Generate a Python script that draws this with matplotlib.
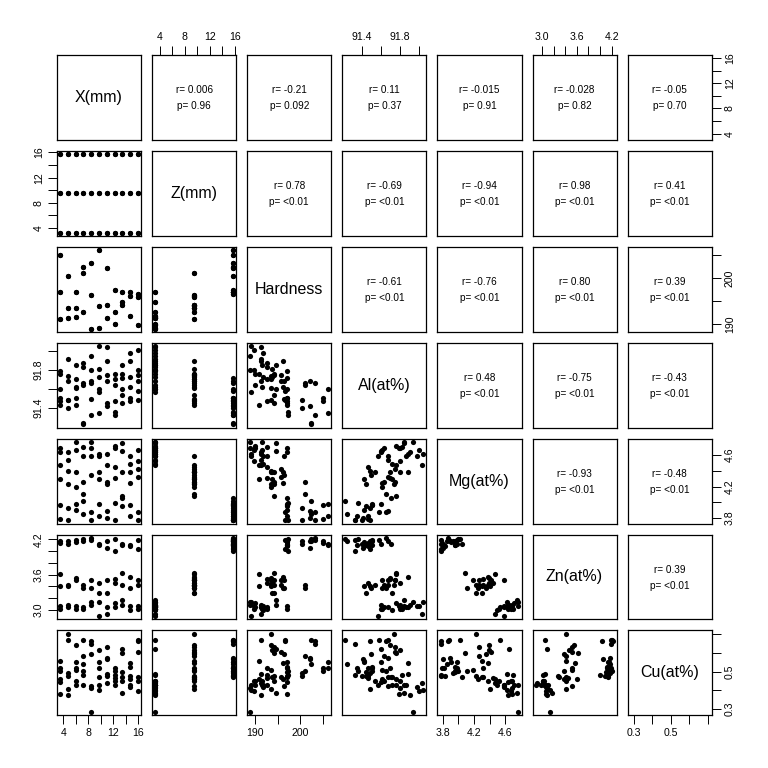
import matplotlib

matplotlib.use("Agg")
import matplotlib.pyplot as plt

plt.rcParams["font.family"] = ["Liberation Sans", "DejaVu Sans"]

# Design grid: 11 positions along X, 3 depths in Z, 2 repeat measurements each.
x_pos = [3.5, 4.75, 6.0, 7.25, 8.5, 9.75, 11.0, 12.25, 13.5, 14.75, 16.0]
z_pos = [3.25, 9.5, 15.75]

# Hardness: one value per (Z, X) position, shared by both repeats.
hard_z1 = [197.0, 191.4, 191.6, 192.7, 189.0, 189.1, 191.4, 190.0, 194.7, 191.8, 189.7]
hard_z2 = [191.0, 193.5, 193.5, 201.1, 196.4, 193.8, 194.2, 192.6, 194.2, 196.1, 195.8]
hard_z3 = [205.0, 200.4, 197.0, 202.3, 203.3, 206.1, 202.2, 197.3, 197.0, 197.0, 196.6]

# Composition: two repeats per X position, per Z depth.
al_z1 = [91.79, 91.60, 91.91, 91.68, 91.85, 91.62, 91.87, 91.83, 91.94, 91.80, 92.05,
         91.57, 92.04, 91.89, 91.76, 91.64, 91.85, 91.60, 91.98, 91.72, 92.01, 91.80]
al_z2 = [91.76, 91.43, 91.74, 91.49, 91.70, 91.61, 91.64, 91.66, 91.68, 91.50, 91.81,
         91.72, 91.75, 91.45, 91.70, 91.47, 91.76, 91.54, 91.89, 91.62, 91.75, 91.68]
al_z3 = [91.51, 91.47, 91.49, 91.40, 91.51, 91.43, 91.23, 91.25, 91.66, 91.33, 91.60,
         91.35, 91.68, 91.42, 91.36, 91.33, 91.71, 91.45, 91.51, 91.47, 91.58, 91.49]

mg_z1 = [4.69, 4.64, 4.64, 4.54, 4.77, 4.67, 4.59, 4.70, 4.77, 4.69, 4.62,
         4.59, 4.47, 4.62, 4.72, 4.69, 4.75, 4.65, 4.59, 4.49, 4.67, 4.52]
mg_z2 = [4.47, 4.30, 4.23, 4.40, 4.39, 4.19, 4.26, 4.11, 4.59, 4.35, 4.39,
         4.30, 4.26, 4.23, 4.31, 4.45, 4.08, 4.38, 4.38, 4.25, 4.42, 4.32]
mg_z3 = [3.96, 3.79, 3.93, 3.77, 3.98, 3.90, 4.02, 3.85, 3.87, 3.77, 3.98,
         3.82, 3.89, 3.80, 3.99, 3.77, 4.05, 3.95, 3.96, 3.83, 3.88, 3.77]

zn_z1 = [3.07, 3.02, 3.09, 3.05, 3.07, 3.01, 3.04, 3.01, 3.14, 3.09, 3.14,
         2.89, 2.92, 3.05, 3.11, 3.04, 3.17, 3.09, 3.07, 2.99, 3.07, 3.02]
zn_z2 = [3.61, 3.41, 3.42, 3.41, 3.55, 3.51, 3.42, 3.38, 3.51, 3.38, 3.46,
         3.29, 3.51, 3.28, 3.52, 3.45, 3.62, 3.42, 3.56, 3.37, 3.51, 3.42]
zn_z3 = [4.17, 4.14, 4.17, 4.13, 4.19, 4.15, 4.20, 4.17, 4.23, 4.19, 4.13,
         4.11, 4.17, 4.05, 4.20, 4.00, 4.13, 4.10, 4.11, 4.08, 4.19, 4.03]

cu_z1 = [0.380, 0.446, 0.374, 0.668, 0.432, 0.450, 0.430, 0.484, 0.284, 0.413, 0.400,
         0.432, 0.440, 0.490, 0.432, 0.450, 0.388, 0.620, 0.419, 0.432, 0.399, 0.451]
cu_z2 = [0.460, 0.557, 0.705, 0.407, 0.644, 0.509, 0.586, 0.503, 0.422, 0.595, 0.619,
         0.470, 0.634, 0.476, 0.519, 0.465, 0.601, 0.450, 0.547, 0.460, 0.605, 0.470]
cu_z3 = [0.503, 0.520, 0.496, 0.476, 0.519, 0.550, 0.668, 0.540, 0.663, 0.649, 0.553,
         0.519, 0.576, 0.567, 0.503, 0.484, 0.471, 0.500, 0.528, 0.480, 0.672, 0.663]

names = ["X(mm)", "Z(mm)", "Hardness", "Al(at%)", "Mg(at%)", "Zn(at%)", "Cu(at%)"]

# Correlation labels printed in the upper panels (row, col) -> r / p.
r_text = {
    (0, 1): "0.006", (0, 2): "-0.21", (0, 3): "0.11", (0, 4): "-0.015", (0, 5): "-0.028", (0, 6): "-0.05",
    (1, 2): "0.78", (1, 3): "-0.69", (1, 4): "-0.94", (1, 5): "0.98", (1, 6): "0.41",
    (2, 3): "-0.61", (2, 4): "-0.76", (2, 5): "0.80", (2, 6): "0.39",
    (3, 4): "0.48", (3, 5): "-0.75", (3, 6): "-0.43",
    (4, 5): "-0.93", (4, 6): "-0.48",
    (5, 6): "0.39",
}
p_text = {
    (0, 1): "0.96", (0, 2): "0.092", (0, 3): "0.37", (0, 4): "0.91", (0, 5): "0.82", (0, 6): "0.70",
}

# Axis ticks and which of them carry a label.
ticks = [
    ([4, 6, 8, 10, 12, 14, 16], [4, 8, 12, 16]),
    ([4, 6, 8, 10, 12, 14, 16], [4, 8, 12, 16]),
    ([190, 195, 200, 205], [190, 200]),
    ([91.4, 91.6, 91.8, 92.0], [91.4, 91.8]),
    ([3.8, 4.0, 4.2, 4.4, 4.6], [3.8, 4.2, 4.6]),
    ([3.0, 3.2, 3.4, 3.6, 3.8, 4.0, 4.2], [3.0, 3.6, 4.2]),
    ([0.3, 0.4, 0.5, 0.6, 0.7], [0.3, 0.5]),
]

# Assemble the long table (66 rows).
X, Z, H, AL, MG, ZN, CU = [], [], [], [], [], [], []
for zv, hz, alz, mgz, znz, cuz in zip(
        z_pos, [hard_z1, hard_z2, hard_z3], [al_z1, al_z2, al_z3],
        [mg_z1, mg_z2, mg_z3], [zn_z1, zn_z2, zn_z3], [cu_z1, cu_z2, cu_z3]):
    for xi, xv in enumerate(x_pos):
        for rep in range(2):
            k = xi * 2 + rep
            X.append(xv)
            Z.append(zv)
            H.append(hz[xi])
            AL.append(alz[k])
            MG.append(mgz[k])
            ZN.append(znz[k])
            CU.append(cuz[k])
cols = [X, Z, H, AL, MG, ZN, CU]


def lims(v):
    lo, hi = min(v), max(v)
    pad = 0.04 * (hi - lo)
    return lo - pad, hi + pad


def fmt(t):
    if isinstance(t, int):
        return str(t)
    return "%.1f" % t


fig = plt.figure(figsize=(7.68, 7.68), dpi=100)
W = H_PX = 768
left, top = 57, 55
pw, ph, gap = 84.1, 84.9, 11.0
n = 7

for i in range(n):
    for j in range(n):
        x0 = (left + j * (pw + gap)) / W
        y0 = 1 - (top + i * (ph + gap) + ph) / H_PX
        ax = fig.add_axes([x0, y0, pw / W, ph / H_PX])
        ax.set_xlim(*lims(cols[j]))
        ax.set_ylim(*lims(cols[i]))
        for s in ax.spines.values():
            s.set_linewidth(0.9)
            s.set_color("black")
        ax.tick_params(which="both", length=6.5, width=0.7, labelsize=7.6, pad=3,
                       bottom=False, top=False, left=False, right=False,
                       labelbottom=False, labeltop=False, labelleft=False, labelright=False)
        ax.set_xticks([])
        ax.set_yticks([])

        if i == j:
            ax.text(0.5, 0.5, names[i], transform=ax.transAxes, ha="center", va="center", fontsize=11.5)
        elif i < j:
            r = r_text[(i, j)]
            p = p_text.get((i, j), "<0.01")
            ax.text(0.5, 0.585, "r= " + r, transform=ax.transAxes, ha="center", va="center", fontsize=7.2)
            ax.text(0.5, 0.395, "p= " + p, transform=ax.transAxes, ha="center", va="center", fontsize=7.2)
        else:
            ax.scatter(cols[j], cols[i], s=14, color="black", linewidths=0)

        # Alternating outer axes, as in R's pairs().
        if i == n - 1 and j % 2 == 0:
            tv, lv = ticks[j]
            ax.set_xticks(tv)
            ax.set_xticklabels([fmt(t) if t in lv else "" for t in tv])
            ax.tick_params(bottom=True, labelbottom=True)
        if i == 0 and j % 2 == 1:
            tv, lv = ticks[j]
            ax.set_xticks(tv)
            ax.set_xticklabels([fmt(t) if t in lv else "" for t in tv])
            ax.tick_params(top=True, labeltop=True)
        if j == 0 and i % 2 == 1:
            tv, lv = ticks[i]
            ax.set_yticks(tv)
            ax.set_yticklabels([fmt(t) if t in lv else "" for t in tv], rotation=90, va="center")
            ax.tick_params(left=True, labelleft=True)
        if j == n - 1 and i % 2 == 0:
            tv, lv = ticks[i]
            ax.set_yticks(tv)
            ax.set_yticklabels([fmt(t) if t in lv else "" for t in tv], rotation=90, va="center")
            ax.tick_params(right=True, labelright=True)

fig.savefig("out.png", dpi=100, facecolor="white")
